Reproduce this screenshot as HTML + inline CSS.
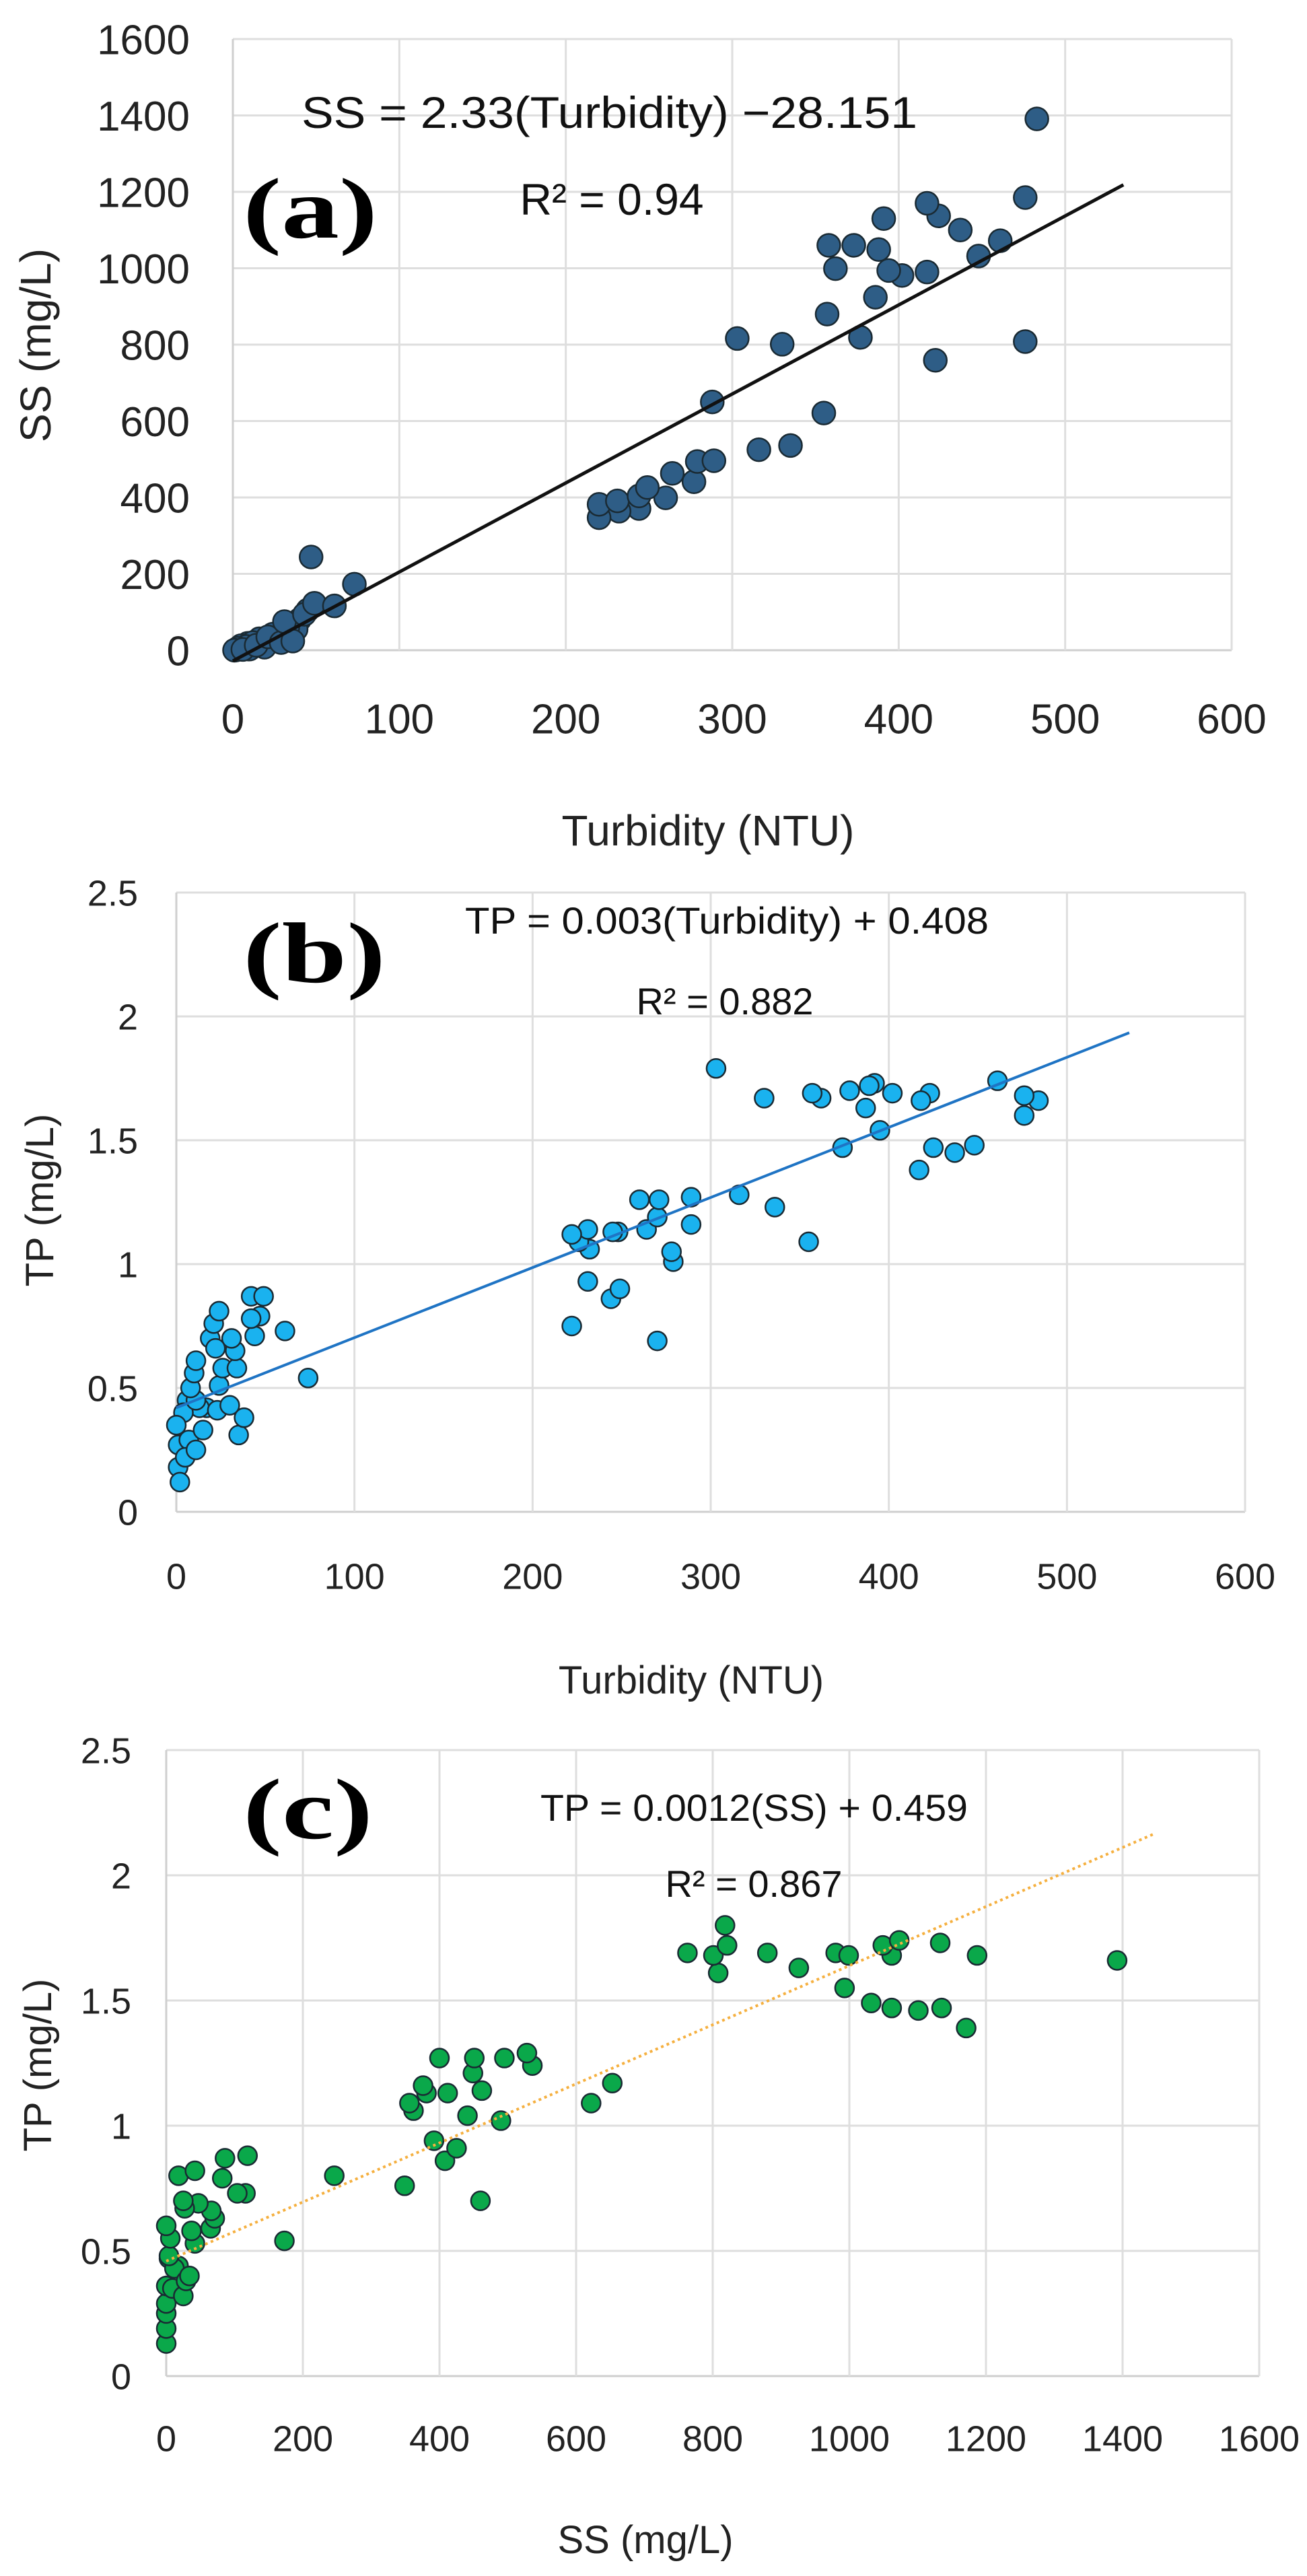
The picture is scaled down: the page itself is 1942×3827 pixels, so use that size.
<!DOCTYPE html>
<html><head><meta charset="utf-8">
<style>
html,body{margin:0;padding:0;background:#fff;}
svg{display:block;font-family:"Liberation Sans",sans-serif;}
</style></head>
<body>
<svg id="fig" width="1942" height="3827" viewBox="0 0 1942 3827" xmlns="http://www.w3.org/2000/svg"></svg>
<script>
// ---- Panel (a): Turbidity vs SS ----
const aTurb = [483,476,476,417,424,437,391,461,448,358,373,388,362,394,402,417,386,357,377,303,330,422,288,355,316,335,289,279,264,277,249,260,244,231,220,220,232,244,47,73,61,49,43,31,36,29,21,14,6,1,3,8,10,12,16,19,24,26,33,38,40,45,2,5,9,4];
const aSS   = [1391,1185,808,1170,1137,1100,1130,1072,1032,1060,1060,1049,999,994,981,990,924,880,819,816,801,759,650,621,525,536,496,494,463,441,426,399,404,391,382,347,364,371,244,173,116,123,94,75,24,20,35,13,2,0,5,10,3,20,30,8,42,25,60,55,80,105,1,12,18,6];
const aXTicks = ["0","100","200","300","400","500","600"];
const aYTicks = ["0","200","400","600","800","1000","1200","1400","1600"];
const aFit = [2.33, -28.151, 0, 535]; // slope, intercept, xStart, xEnd

// ---- Panel (b): Turbidity vs TP ----
const bTurb = [303,330,357,362,378,389,392,402,387,395,374,418,423,461,476,484,476,425,437,448,417,316,336,355,260,271,289,270,289,264,245,248,222,231,226,232,278,279,231,249,244,222,270,74,61,49,42,42,47,44,24,21,22,19,31,33,34,26,24,38,35,30,23,11,10,8,11,15,11,5,2,1,0,4,7,13,6,1,17];
const bTP   = [1.79,1.67,1.69,1.67,1.70,1.72,1.73,1.69,1.63,1.54,1.47,1.66,1.69,1.74,1.68,1.66,1.60,1.47,1.45,1.48,1.38,1.28,1.23,1.09,1.26,1.26,1.27,1.19,1.16,1.14,1.13,1.13,1.12,1.14,1.09,1.06,1.05,1.01,0.93,0.90,0.86,0.75,0.69,0.54,0.73,0.87,0.87,0.78,0.79,0.71,0.81,0.76,0.66,0.70,0.70,0.65,0.58,0.58,0.51,0.38,0.31,0.43,0.41,0.61,0.56,0.50,0.45,0.33,0.25,0.22,0.12,0.18,0.35,0.40,0.29,0.42,0.45,0.27,0.42];
const bXTicks = ["0","100","200","300","400","500","600"];
const bYTicks = ["0","0.5","1","1.5","2","2.5"];
const bFit = [0.00283, 0.42, 0, 535];

// ---- Panel (c): SS vs TP ----
const cSS = [1392,1187,1133,1135,1171,1101,1062,1032,1073,1049,1062,993,999,980,926,880,818,821,801,808,763,653,622,528,536,495,490,400,451,449,462,441,412,376,381,356,362,392,425,408,349,460,246,173,86,119,82,104,116,42,18,25,27,47,66,71,65,37,42,0,6,4,34,29,25,9,12,0,0,0,0,0,4,18];
const cTP = [1.66,1.68,1.73,1.47,1.39,1.46,1.47,1.49,1.74,1.72,1.68,1.55,1.68,1.69,1.63,1.69,1.80,1.72,1.68,1.61,1.69,1.17,1.09,1.29,1.24,1.27,1.02,1.27,1.27,1.21,1.14,1.04,1.13,1.16,1.13,1.09,1.06,0.94,0.91,0.86,0.76,0.70,0.80,0.54,0.87,0.88,0.79,0.73,0.73,0.82,0.80,0.70,0.67,0.69,0.66,0.63,0.59,0.58,0.53,0.60,0.55,0.48,0.40,0.38,0.32,0.35,0.43,0.36,0.29,0.25,0.19,0.13,0.47,0.44];
const cXTicks = ["0","200","400","600","800","1000","1200","1400","1600"];
const cYTicks = ["0","0.5","1","1.5","2","2.5"];
const cFit = [0.00118, 0.459, 0, 1445];

const NS = "http://www.w3.org/2000/svg";
const svg = document.getElementById('fig');
function mk(tag, attrs, parent){
  const e = document.createElementNS(NS, tag);
  for (const k in attrs) e.setAttribute(k, attrs[k]);
  (parent||svg).appendChild(e);
  return e;
}
function txt(str, attrs, parent){
  const t = mk('text', attrs, parent);
  t.textContent = str;
  return t;
}

function panel(cfg){
  const g = mk('g', {});
  
  
  const xMax = cfg.xMax, yMax = cfg.yMax;
  const X = v => cfg.L + (v / xMax) * (cfg.R - cfg.L);
  const Y = v => cfg.B - (v / yMax) * (cfg.B - cfg.T);
  cfg.yTicks.forEach((lab, i) => {
    const v = parseFloat(lab);
    const ln = mk('line', {x1:cfg.L, x2:cfg.R, y1:Y(v), y2:Y(v), stroke: i===0?'#cfcfcf':'#dedede', 'stroke-width':3}, g);
    
    
    const t = txt(lab, {x:cfg.yLabX, y:Y(v)+cfg.tickFs*0.36, 'text-anchor':'end', 'font-size':cfg.tickFs, fill:'#222'}, g);
    
    
  });
  cfg.xTicks.forEach((lab, i) => {
    const v = parseFloat(lab);
    const ln = mk('line', {x1:X(v), x2:X(v), y1:cfg.T, y2:cfg.B, stroke: i===0?'#cfcfcf':'#dedede', 'stroke-width':3}, g);
    
    
    const t = txt(lab, {x:X(v), y:cfg.xLabY + cfg.tickFs*0.36, 'text-anchor':'middle', 'font-size':cfg.tickFs, fill:'#222'}, g);
    
    
  });
  const pts = mk('g', {}, g);
  
  
  for (let i = cfg.xs.length - 1; i >= 0; i--) {
    const c = mk('circle', {cx:X(cfg.xs[i]), cy:Y(cfg.ys[i]), r:cfg.r, fill:cfg.color, stroke:'#1a2a33', 'stroke-width':2.5}, pts);
    
    
  }
  const f = cfg.fit;
  const tl = mk('line', {x1:X(f[2]), y1:Y(f[0]*f[2]+f[1]), x2:X(f[3]), y2:Y(f[0]*f[3]+f[1]), stroke:cfg.lineColor, 'stroke-width':cfg.lineW, 'stroke-dasharray':cfg.dash||'none'}, g);
  
  
  const eq = txt(cfg.eq, {x:cfg.eqX, y:cfg.eqY + cfg.eqFs*0.36, 'font-size':cfg.eqFs, fill:'#111', textLength:cfg.eqW, lengthAdjust:'spacingAndGlyphs'}, g);
  
  
  const r2 = txt(cfg.r2, {x:cfg.r2X, y:cfg.r2Y + cfg.eqFs*0.36, 'text-anchor':'middle', 'font-size':cfg.eqFs, fill:'#111'}, g);
  
  
  const pl = txt(cfg.label, {x:361, y:cfg.labY + 42, 'font-size':128, 'font-weight':'bold', 'font-family':'"Liberation Serif",serif', fill:'#000', textLength:cfg.labW, lengthAdjust:'spacingAndGlyphs'}, g);
  
  
  const xt = txt(cfg.xTitle, {x:cfg.xTitleX, y:cfg.xTitleY + cfg.titleFs*0.36, 'text-anchor':'middle', 'font-size':cfg.titleFs, fill:'#222'}, g);
  
  
  const yt = txt(cfg.yTitle, {x:0, y:0, 'text-anchor':'middle', 'font-size':cfg.titleFs, fill:'#222', transform:`translate(${cfg.yTitleX + cfg.titleFs*0.36},${cfg.yTitleY}) rotate(-90)`}, g);
  
  
}

panel({name:'chart-a', xs:aTurb, ys:aSS, xTicks:aXTicks, yTicks:aYTicks, fit:aFit, xMax:600, yMax:1600,
  L:346, R:1830, T:58, B:966, yLabX:282, xLabY:1067, tickFs:62, r:17, color:'#2e5d86',
  lineColor:'#111', lineW:5, eq:'SS  =  2.33(Turbidity) −28.151', eqX:448, eqY:166, eqW:915, eqFs:66,
  r2:'R²  =  0.94', r2X:909, r2Y:295, label:'(a)', labY:311, labW:200,
  xTitle:'Turbidity (NTU)', xTitleX:1052, xTitleY:1233, yTitle:'SS (mg/L)', yTitleX:52, yTitleY:513, titleFs:64});

panel({name:'chart-b', xs:bTurb, ys:bTP, xTicks:bXTicks, yTicks:bYTicks, fit:bFit, xMax:600, yMax:2.5,
  L:262, R:1850, T:1326, B:2246, yLabX:205, xLabY:2341, tickFs:54, r:14, color:'#1ab2ef',
  lineColor:'#1f74c4', lineW:4, eq:'TP  =  0.003(Turbidity)  +  0.408', eqX:691, eqY:1367, eqW:778, eqFs:56,
  r2:'R²  =  0.882', r2X:1077, r2Y:1487, label:'(b)', labY:1417, labW:212,
  xTitle:'Turbidity (NTU)', xTitleX:1027, xTitleY:2495, yTitle:'TP  (mg/L)', yTitleX:58, yTitleY:1783, titleFs:58});

panel({name:'chart-c', xs:cSS, ys:cTP, xTicks:cXTicks, yTicks:cYTicks, fit:cFit, xMax:1600, yMax:2.5,
  L:247, R:1871, T:2600, B:3530, yLabX:195, xLabY:3622, tickFs:54, r:14, color:'#0aa84a',
  lineColor:'#f5b040', lineW:4, dash:'4 5', eq:'TP  =  0.0012(SS)  +  0.459', eqX:803, eqY:2685, eqW:635, eqFs:56,
  r2:'R²  =  0.867', r2X:1120, r2Y:2798, label:'(c)', labY:2689, labW:193,
  xTitle:'SS (mg/L)', xTitleX:959, xTitleY:3772, yTitle:'TP  (mg/L)', yTitleX:55, yTitleY:3068, titleFs:58});
</script>
</body></html>
